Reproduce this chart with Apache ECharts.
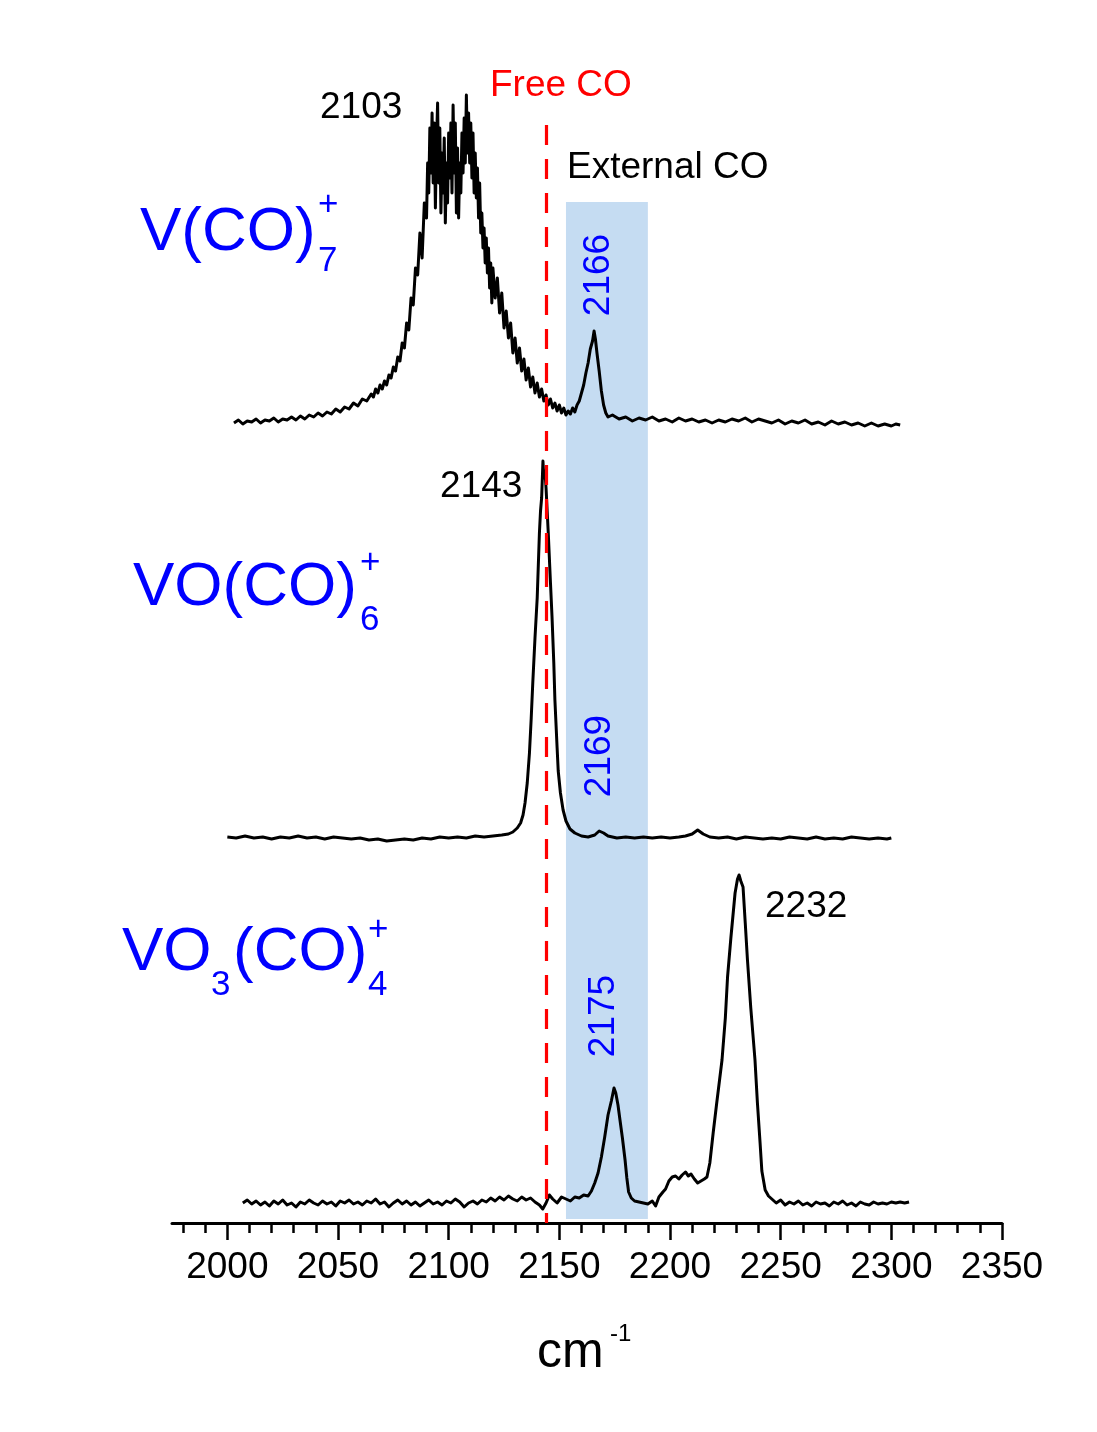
<!DOCTYPE html>
<html>
<head>
<meta charset="utf-8">
<script src="https://cdn.jsdelivr.net/npm/echarts@6/dist/echarts.min.js"></script>
<style>
  html, body { margin: 0; padding: 0; background: #fff; }
  #chart { width: 1097px; height: 1432px; }
</style>
</head>
<body>
<div id="chart"></div>
<script>
// wavenumber axis ticks
const majorTicks = [2000, 2050, 2100, 2150, 2200, 2250, 2300, 2350]
const minorTicks = [1980, 1990, 2010, 2020, 2030, 2040, 2060, 2070, 2080, 2090, 2110, 2120, 2130, 2140,
  2160, 2170, 2180, 2190, 2210, 2220, 2230, 2240, 2260, 2270, 2280, 2290, 2310, 2320, 2330, 2340]

// stacked spectra, [cm-1, offset intensity]
const vco7Data = [
  [2003, 800], [2005, 803], [2007, 799], [2009, 802], [2011, 801], [2013, 804], [2015, 800], [2017, 803],
  [2019, 802], [2021, 805], [2023, 801], [2025, 804], [2027, 803], [2029, 806], [2031, 803], [2033, 807],
  [2035, 804], [2037, 808], [2039, 806], [2041, 810], [2043, 807], [2045, 811], [2047, 809], [2049, 814],
  [2051, 811], [2053, 816], [2055, 814], [2057, 820], [2059, 817], [2061, 824], [2063, 822], [2065, 829],
  [2066, 826], [2067, 834], [2068, 830], [2069, 838], [2070, 834], [2071, 842], [2072, 838], [2073, 848],
  [2074, 845], [2075, 856], [2076, 852], [2077, 866], [2078, 862], [2079, 880], [2080, 875], [2081, 900],
  [2082, 893], [2083, 925], [2084, 918], [2085, 955], [2086, 948], [2087, 990], [2088, 965], [2089, 1020],
  [2090, 1005], [2090.5, 1060], [2091, 1030], [2091.5, 1095], [2092, 1050], [2092.5, 1110], [2093, 1040],
  [2093.5, 1100], [2094, 1015], [2094.5, 1080], [2095, 1120], [2095.5, 1040], [2096, 1095], [2096.5, 1010],
  [2097, 1070], [2097.5, 1030], [2098, 1085], [2098.5, 1000], [2099, 1060], [2099.5, 1020], [2100, 1090],
  [2100.5, 1045], [2101, 1100], [2101.5, 1030], [2102, 1118], [2102.5, 1050], [2103, 1100], [2103.5, 1010],
  [2104, 1075], [2104.5, 1005], [2105, 1060], [2105.5, 1030], [2106, 1090], [2106.5, 1050], [2107, 1105],
  [2107.5, 1060], [2108, 1128], [2108.5, 1070], [2109, 1110], [2109.5, 1060], [2110, 1100], [2110.5, 1045],
  [2111, 1090], [2111.5, 1030], [2112, 1070], [2112.5, 1025], [2113, 1055], [2113.5, 1005], [2114, 1040],
  [2114.5, 990], [2115, 1010], [2115.5, 975], [2116, 995], [2116.5, 960], [2117, 985], [2117.5, 950],
  [2118, 975], [2118.5, 935], [2119, 960], [2119.5, 920], [2120, 955], [2121, 925], [2122, 945], [2123, 910],
  [2124, 930], [2125, 895], [2126, 912], [2127, 885], [2128, 900], [2129, 870], [2130, 885], [2131, 860],
  [2132, 875], [2133, 852], [2134, 864], [2135, 843], [2136, 855], [2137, 836], [2138, 846], [2139, 830],
  [2140, 840], [2141, 826], [2142, 834], [2143, 822], [2144, 828], [2145, 818], [2146, 824], [2147, 815],
  [2148, 820], [2149, 812], [2150, 818], [2151, 810], [2152, 815], [2153, 808], [2154, 812], [2155, 809],
  [2156, 815], [2157, 811], [2158, 818], [2159, 822], [2160, 830], [2161, 838], [2162, 850], [2163, 860],
  [2164, 874], [2165, 882], [2165.7, 892], [2166.3, 884], [2167, 870], [2168, 852], [2169, 832], [2170, 818],
  [2171, 810], [2172, 806], [2174, 808], [2177, 804], [2180, 806], [2183, 802], [2186, 805], [2189, 803],
  [2192, 806], [2195, 802], [2198, 804], [2201, 801], [2204, 805], [2207, 802], [2210, 804], [2213, 801],
  [2216, 803], [2219, 800], [2222, 803], [2225, 801], [2228, 804], [2231, 802], [2234, 805], [2237, 801],
  [2240, 804], [2243, 802], [2246, 800], [2249, 803], [2252, 799], [2255, 802], [2258, 800], [2261, 803],
  [2264, 799], [2267, 801], [2270, 798], [2273, 802], [2276, 799], [2279, 801], [2282, 798], [2285, 800],
  [2288, 797], [2291, 800], [2294, 797], [2297, 799], [2300, 797], [2302, 799], [2304, 798]
]

const vo6Data = [
  [2000, 386], [2004, 385], [2008, 387], [2012, 385], [2016, 386], [2020, 384], [2024, 386], [2028, 385],
  [2032, 387], [2036, 385], [2040, 386], [2044, 384], [2048, 386], [2052, 385], [2056, 384], [2060, 385],
  [2064, 383], [2068, 384], [2072, 382], [2076, 383], [2080, 384], [2084, 383], [2088, 385], [2092, 384],
  [2096, 386], [2100, 385], [2104, 386], [2108, 385], [2112, 387], [2116, 386], [2120, 387], [2124, 388],
  [2127, 389], [2129, 391], [2131, 395], [2132.5, 400], [2133.6, 408], [2134.5, 420], [2135.5, 440],
  [2136.5, 470], [2137.3, 505], [2138, 540], [2139, 585], [2140, 625], [2141, 690], [2141.5, 712],
  [2142, 725], [2142.6, 762], [2143, 745], [2143.5, 752], [2144, 735], [2145, 690], [2146, 640],
  [2146.7, 606], [2147.5, 560], [2148, 523], [2149, 475], [2149.5, 452], [2150.5, 430], [2151.7, 413],
  [2153, 402], [2154.8, 394], [2157, 390], [2160, 387], [2163, 386], [2166, 388], [2168, 392], [2170, 390],
  [2172, 387], [2176, 385], [2180, 386], [2184, 385], [2188, 386], [2192, 385], [2196, 386], [2200, 385],
  [2204, 386], [2207, 387], [2210, 389], [2212.5, 393], [2215, 389], [2218, 386], [2222, 385], [2226, 386],
  [2230, 384], [2234, 386], [2238, 385], [2242, 384], [2246, 385], [2250, 384], [2254, 386], [2258, 385],
  [2262, 384], [2266, 386], [2270, 384], [2274, 385], [2278, 384], [2282, 386], [2286, 385], [2290, 384],
  [2294, 385], [2298, 384], [2300, 385]
]

const vo3Data = [
  [2007, 20], [2009, 23], [2011, 19], [2013, 22], [2015, 18], [2017, 21], [2019, 17], [2021, 22],
  [2023, 19], [2025, 23], [2027, 18], [2029, 20], [2031, 16], [2033, 21], [2035, 19], [2037, 23],
  [2039, 20], [2041, 18], [2043, 22], [2045, 19], [2047, 21], [2049, 17], [2051, 22], [2053, 20],
  [2055, 23], [2057, 19], [2059, 21], [2061, 18], [2063, 22], [2065, 20], [2067, 24], [2069, 19],
  [2071, 21], [2073, 16], [2075, 20], [2077, 23], [2079, 19], [2081, 22], [2083, 18], [2085, 21],
  [2087, 17], [2089, 20], [2091, 23], [2093, 19], [2095, 21], [2097, 18], [2099, 22], [2101, 20],
  [2103, 24], [2105, 21], [2107, 16], [2109, 20], [2111, 22], [2113, 19], [2115, 23], [2117, 21],
  [2119, 25], [2121, 22], [2123, 26], [2125, 23], [2127, 27], [2129, 24], [2131, 22], [2133, 26],
  [2135, 23], [2137, 25], [2139, 21], [2141, 18], [2142.5, 14], [2144, 20], [2145.5, 28], [2147, 24],
  [2149, 20], [2151, 26], [2153, 24], [2155, 22], [2157, 26], [2159, 25], [2161, 28], [2163, 27],
  [2164.5, 32], [2166, 40], [2167.5, 50], [2169, 66], [2170.5, 86], [2172, 108], [2173.5, 122],
  [2174.7, 135], [2175.5, 130], [2176.5, 118], [2177.4, 103], [2178.5, 85], [2179.7, 63], [2180.5, 45],
  [2181.3, 31], [2182.5, 25], [2184, 22], [2186, 21], [2188, 20], [2190, 19], [2192, 22], [2193.5, 17],
  [2195, 26], [2196.8, 31], [2198, 34], [2199.5, 42], [2201, 46], [2202.5, 47], [2204, 44], [2205.5, 48],
  [2207, 51], [2208.3, 47], [2209.5, 49], [2211, 44], [2212.5, 40], [2214, 42], [2215.5, 44], [2216.7, 46],
  [2218, 60], [2219.5, 90], [2221, 118], [2222.5, 145], [2223.5, 163], [2225, 205], [2226, 246],
  [2227.5, 285], [2229.4, 330], [2230.5, 344], [2231.2, 348], [2232, 342], [2233, 336], [2234, 300],
  [2235, 263], [2236.5, 215], [2238.4, 163], [2239.5, 120], [2240.7, 80], [2241.5, 52], [2243, 33],
  [2244.5, 27], [2246, 24], [2248, 20], [2250, 23], [2252, 18], [2254, 21], [2256, 19], [2258, 22],
  [2260, 18], [2262, 20], [2264, 17], [2266, 21], [2268, 19], [2270, 20], [2272, 17], [2274, 21],
  [2276, 19], [2278, 22], [2280, 18], [2282, 20], [2284, 17], [2286, 21], [2288, 19], [2290, 18],
  [2292, 21], [2294, 19], [2296, 20], [2298, 19], [2300, 21], [2302, 20], [2304, 21], [2306, 20], [2308, 21]
]

const freeCO = 2144
const externalBand = [2153, 2190]

const FONT = '"Liberation Sans", Arial, sans-serif'
const BLUE = '#0000ff'

const chart = echarts.init(document.getElementById('chart'), null, { renderer: 'canvas' })

function txt(text, x, y, size, color) {
  return {
    type: 'text',
    x, y, z: 100,
    style: {
      text, fill: color, fontSize: size, fontFamily: FONT,
      align: 'left', verticalAlign: 'middle'
    }
  }
}

function vtxt(text, x, y) {
  return {
    type: 'text', x, y, z: 100, rotation: Math.PI / 2,
    style: { text, fill: BLUE, fontSize: 37, fontFamily: FONT, align: 'center', verticalAlign: 'middle' }
  }
}

function trace(data) {
  return {
    type: 'line',
    data,
    showSymbol: false,
    z: 3,
    lineStyle: { color: '#000', width: 3, join: 'round' },
    silent: true
  }
}

const option = {
  animation: false,
  backgroundColor: '#fff',
  grid: { left: 172, right: 95, top: 23, bottom: 209, outerBoundsMode: 'none' },
  xAxis: [
    {
      type: 'value', min: 1975, max: 2350,
      axisLine: { lineStyle: { color: '#000', width: 3 } },
      axisTick: { customValues: majorTicks, length: 17, lineStyle: { color: '#000', width: 2.5 } },
      axisLabel: {
        customValues: majorTicks, color: '#000', fontSize: 37, fontFamily: FONT,
        margin: 45, verticalAlign: 'middle',
        formatter: (v) => String(v)
      },
      splitLine: { show: false }
    },
    {
      type: 'value', min: 1975, max: 2350, position: 'bottom',
      axisLine: { show: false },
      axisTick: { customValues: minorTicks, length: 10, lineStyle: { color: '#000', width: 2.5 } },
      axisLabel: { show: false },
      splitLine: { show: false }
    }
  ],
  yAxis: { type: 'value', min: 0, max: 1200, show: false },
  series: [
    {
      type: 'line', data: [], z: 1, silent: true,
      markArea: {
        silent: true,
        itemStyle: { color: '#c5dcf2', opacity: 1 },
        data: [[{ coord: [externalBand[0], 1021] }, { coord: [externalBand[1], 4] }]]
      }
    },
    trace(vco7Data),
    trace(vo6Data),
    trace(vo3Data),
    {
      type: 'line', data: [], z: 5, silent: true,
      markLine: {
        silent: true, symbol: 'none', label: { show: false },
        lineStyle: { color: '#ff0000', width: 3.2, type: [20, 14] },
        data: [[{ coord: [freeCO, 1098] }, { coord: [freeCO, 0] }]]
      }
    }
  ],
  graphic: [
    txt('Free CO', 490, 86, 37, '#ff0000'),
    txt('External CO', 567, 168, 37, '#000'),
    txt('2103', 320, 108, 37, '#000'),
    txt('2143', 440, 487, 37, '#000'),
    txt('2232', 765, 907, 37, '#000'),
    vtxt('2166', 599, 275),
    vtxt('2169', 600, 756),
    vtxt('2175', 604, 1016),
    // V(CO)7+
    txt('V(CO)', 140, 233, 62, BLUE),
    txt('7', 318, 261, 35, BLUE),
    txt('+', 318, 205, 35, BLUE),
    // VO(CO)6+
    txt('VO(CO)', 133, 588, 62, BLUE),
    txt('6', 360, 620, 35, BLUE),
    txt('+', 360, 563, 35, BLUE),
    // VO3(CO)4+
    txt('VO', 122, 953, 62, BLUE),
    txt('3', 211, 985, 35, BLUE),
    txt('(CO)', 233, 953, 62, BLUE),
    txt('4', 368, 985, 35, BLUE),
    txt('+', 368, 930, 35, BLUE),
    // axis name
    txt('cm', 537, 1353, 50, '#000'),
    txt('-1', 610, 1334, 24, '#000')
  ]
}

chart.setOption(option)
</script>
</body>
</html>
